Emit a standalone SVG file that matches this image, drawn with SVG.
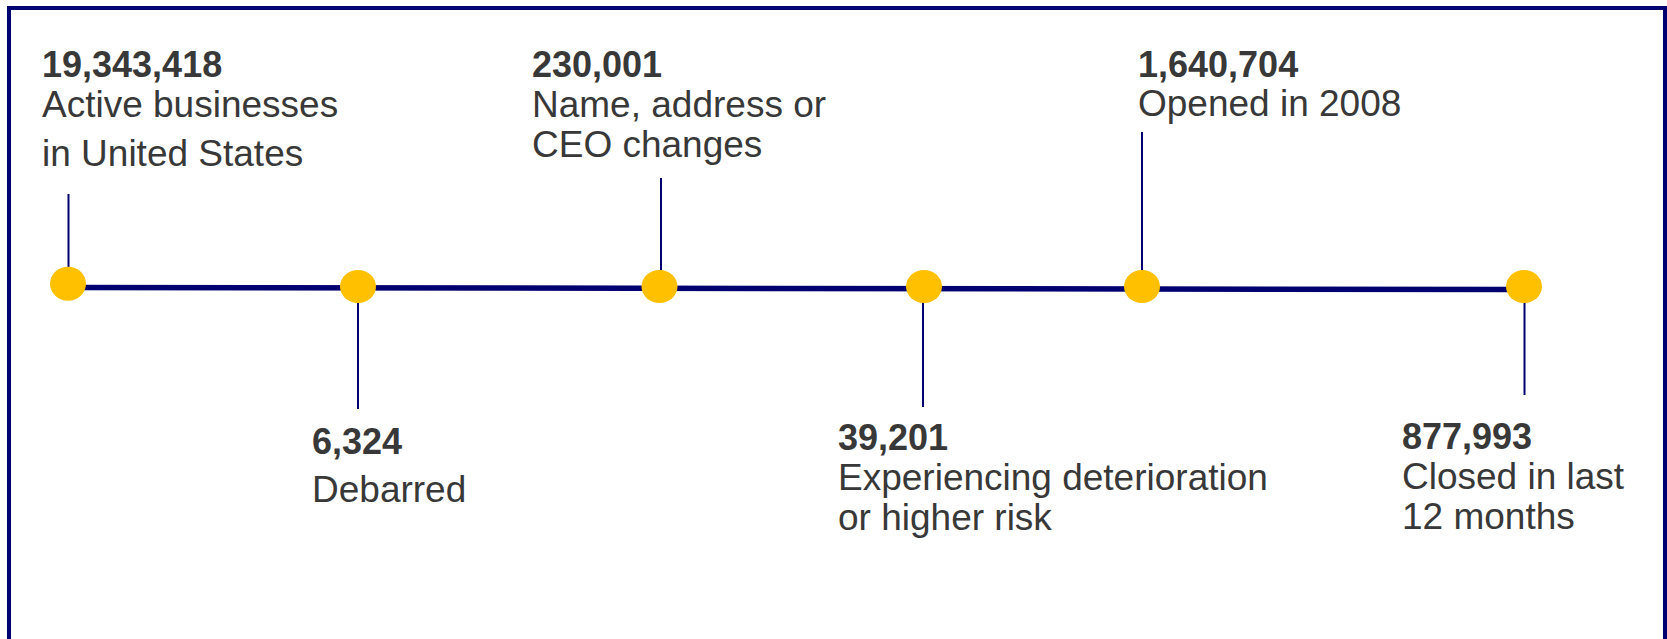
<svg xmlns="http://www.w3.org/2000/svg" width="1667" height="639" viewBox="0 0 1667 639">
  <style>
    .frame { fill: #ffffff; stroke: #000070; stroke-width: 4; }
    .axis { stroke: #000070; stroke-width: 5.5; fill: none; }
    .tick { stroke: #000070; stroke-width: 2; fill: none; }
    .dot { fill: #ffc000; }
    .num { font-family: "Liberation Sans", Arial, sans-serif; font-weight: bold; font-size: 36px; fill: #383838; }
    .lbl { font-family: "Liberation Sans", Arial, sans-serif; font-size: 37px; fill: #383838; }
  </style>

  <!-- outer frame (bottom edge runs past the canvas) -->
  <rect class="frame" x="9" y="8" width="1656" height="700"/>

  <!-- timeline axis and leader lines -->
  <g id="connectors">
    <line class="axis" x1="68" y1="287.5" x2="1524" y2="289.5"/>
    <line class="tick" x1="68.5" y1="194" x2="68.5" y2="268"/>
    <line class="tick" x1="358" y1="302" x2="358" y2="409"/>
    <line class="tick" x1="661" y1="178" x2="661" y2="271"/>
    <line class="tick" x1="923" y1="302" x2="923" y2="407"/>
    <line class="tick" x1="1142" y1="132" x2="1142" y2="271"/>
    <line class="tick" x1="1524.5" y1="302" x2="1524.5" y2="395"/>
  </g>

  <g id="active">
    <ellipse class="dot" cx="68" cy="283.7" rx="18" ry="17"/>
    <text class="num" x="42" y="77">19,343,418</text>
    <text class="lbl" x="42" y="116.5">Active businesses</text>
    <text class="lbl" x="42" y="165.5">in United States</text>
  </g>

  <g id="debarred">
    <ellipse class="dot" cx="358" cy="286.5" rx="18" ry="16.5"/>
    <text class="num" x="312" y="454">6,324</text>
    <text class="lbl" x="312" y="502">Debarred</text>
  </g>

  <g id="changes">
    <ellipse class="dot" cx="659.5" cy="286.5" rx="18" ry="16.5"/>
    <text class="num" x="532" y="76.5">230,001</text>
    <text class="lbl" x="532" y="116.5">Name, address or</text>
    <text class="lbl" x="532" y="156.5">CEO changes</text>
  </g>

  <g id="risk">
    <ellipse class="dot" cx="924" cy="286.5" rx="18" ry="16.5"/>
    <text class="num" x="838" y="450">39,201</text>
    <text class="lbl" x="838" y="490">Experiencing deterioration</text>
    <text class="lbl" x="838" y="530">or higher risk</text>
  </g>

  <g id="opened">
    <ellipse class="dot" cx="1142" cy="286.5" rx="18" ry="16.5"/>
    <text class="num" x="1138" y="76.5">1,640,704</text>
    <text class="lbl" x="1138" y="116">Opened in 2008</text>
  </g>

  <g id="closed">
    <ellipse class="dot" cx="1524" cy="286.5" rx="18" ry="16.5"/>
    <text class="num" x="1402" y="449">877,993</text>
    <text class="lbl" x="1402" y="489">Closed in last</text>
    <text class="lbl" x="1402" y="529">12 months</text>
  </g>
</svg>
